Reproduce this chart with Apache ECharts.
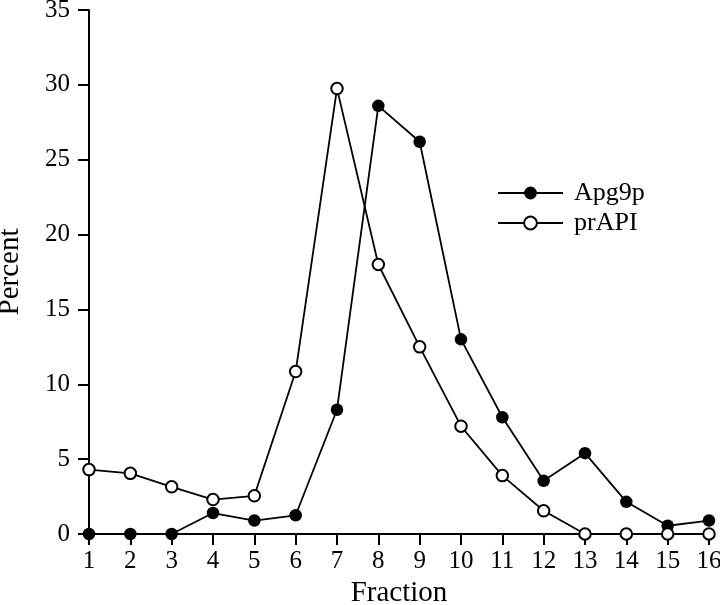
<!DOCTYPE html>
<html><head><meta charset="utf-8">
<script src="https://cdn.jsdelivr.net/npm/echarts@6/dist/echarts.min.js"></script>
<style>html,body{margin:0;padding:0;background:#fff}#c{width:720px;height:605px}</style>
</head><body><div id="c"></div>
<script>
const fractions = [1,2,3,4,5,6,7,8,9,10,11,12,13,14,15,16];
const apg9p = [0,0,0,1.4,0.9,1.25,8.3,28.6,26.2,13.0,7.8,3.55,5.4,2.15,0.55,0.9];
const prAPI = [4.3,4.05,3.15,2.3,2.55,10.85,29.75,18.0,12.5,7.2,3.9,1.55,0,0,0,0];
const yTicks = [0,5,10,15,20,25,30,35];

const font = 'Liberation Serif, Times New Roman, serif';
const chart = echarts.init(document.getElementById('c'), null, {renderer:'canvas'});
const pairs = (ys) => fractions.map((x,i)=>[x, ys[i]]);
chart.setOption({
  animation:false,
  backgroundColor:'#fff',
  grid:{left:89, right:11, top:10, bottom:71, containLabel:false, outerBoundsMode:'none'},
  legend:{
    left:492, top:175, orient:'vertical', itemWidth:65, itemHeight:16, itemGap:4,
    textStyle:{fontFamily:font, fontSize:26, color:'#000', padding:[0,0,0,6]},
    data:['Apg9p','prAPI']
  },
  xAxis:{
    type:'value', min:1, max:16, interval:1,
    name:'Fraction', nameLocation:'middle', nameGap:45,
    nameTextStyle:{fontFamily:font, fontSize:29, color:'#000'},
    axisLine:{lineStyle:{color:'#000', width:2}},
    axisTick:{show:true, inside:false, length:11, lineStyle:{color:'#000', width:2}},
    axisLabel:{fontFamily:font, fontSize:25, color:'#000', margin:15},
    splitLine:{show:false}
  },
  yAxis:{
    type:'value', min:0, max:35, interval:5,
    name:'Percent', nameLocation:'middle', nameGap:64,
    nameTextStyle:{fontFamily:font, fontSize:29, color:'#000'},
    axisLine:{show:true, lineStyle:{color:'#000', width:2}},
    axisTick:{show:true, inside:false, length:11, lineStyle:{color:'#000', width:2}},
    axisLabel:{fontFamily:font, fontSize:25, color:'#000', margin:19,
      formatter:(v)=> yTicks.includes(v) ? String(v) : ''},
    splitLine:{show:false}
  },
  series:[
    {name:'Apg9p', type:'line', data:pairs(apg9p), symbol:'circle', symbolSize:12.5,
     lineStyle:{color:'#000', width:1.8}, itemStyle:{color:'#000'}, z:3},
    {name:'prAPI', type:'line', data:pairs(prAPI), symbol:'emptyCircle', symbolSize:11.5,
     lineStyle:{color:'#000', width:1.8}, itemStyle:{color:'#000', borderWidth:1.6}, z:4}
  ]
});
</script></body></html>
